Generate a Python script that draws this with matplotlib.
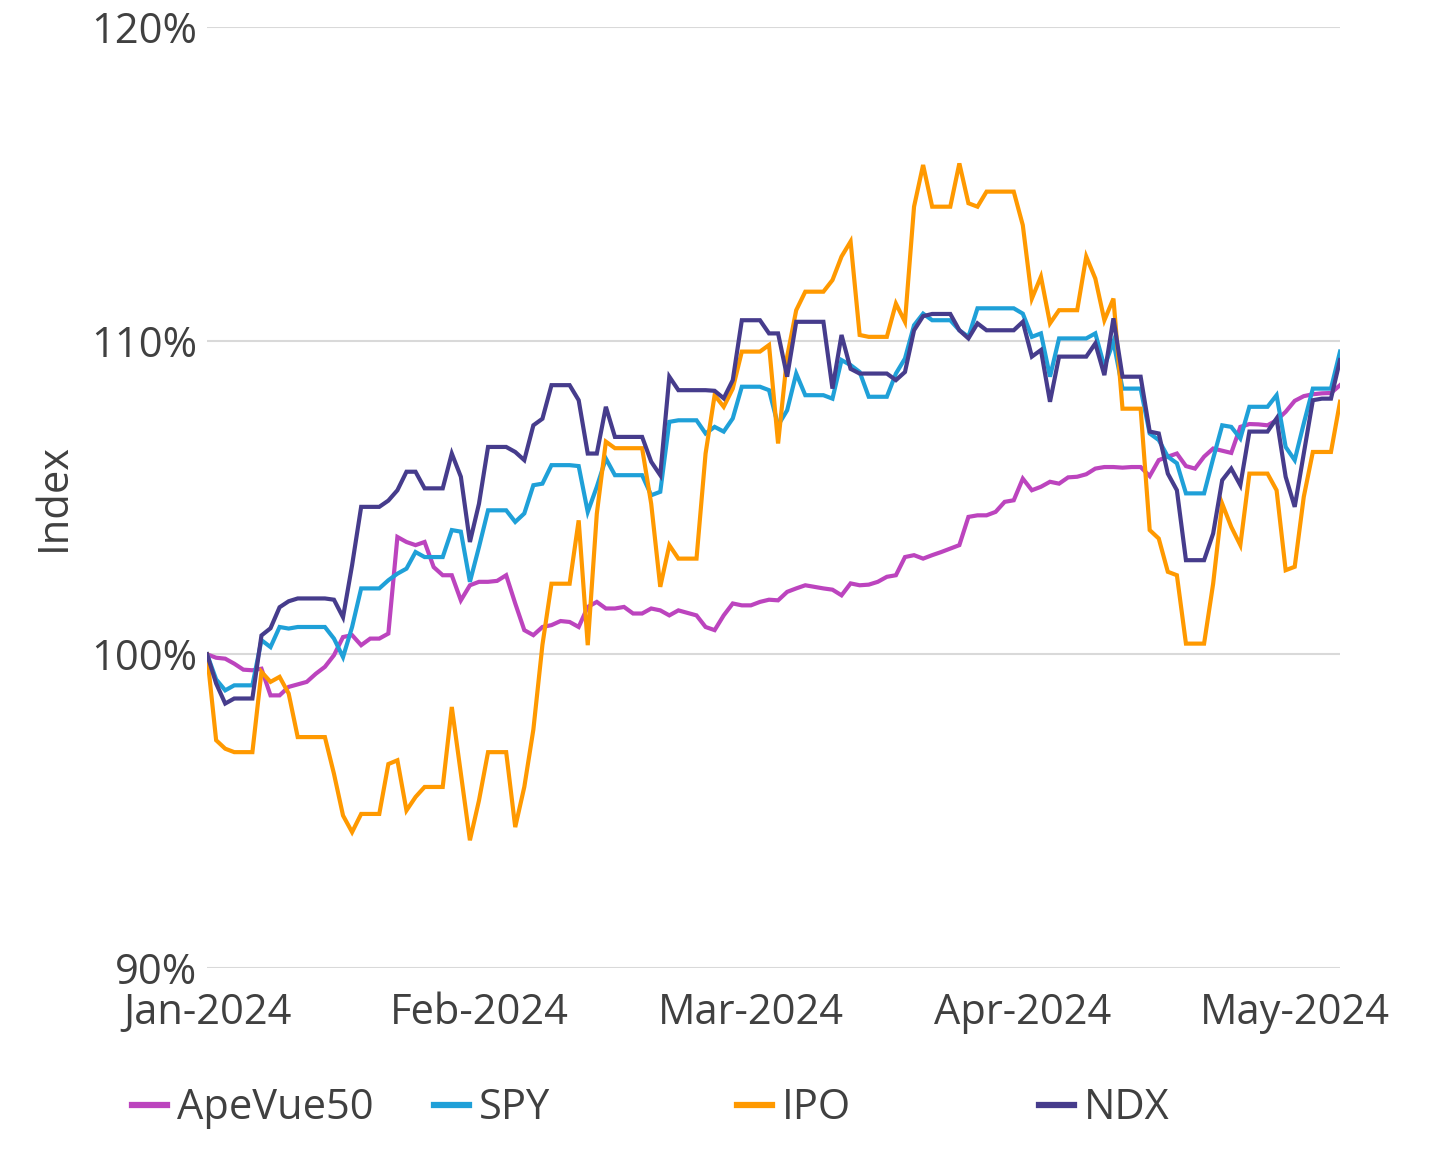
import numpy as np
import pandas as pd
import matplotlib
matplotlib.use('Agg')
import matplotlib.pyplot as plt
import matplotlib.dates as mdates

plt.rcParams['font.family'] = ['Open Sans', 'DejaVu Sans']

# daily values, Jan 2 2024 .. May 6 2024 (index, 100 = start)
start = '2024-01-02'
n_days = 126

apevue50 = [100, 99.89, 99.86, 99.7, 99.51, 99.49, 99.54, 98.69, 98.69, 98.96,
            99.04, 99.12, 99.38, 99.6, 99.97, 100.55, 100.61, 100.29, 100.5, 100.5,
            100.66, 103.74, 103.58, 103.48, 103.58, 102.78, 102.52, 102.52, 101.72, 102.2,
            102.31, 102.31, 102.34, 102.52, 101.62, 100.77, 100.61, 100.87, 100.93, 101.06,
            101.03, 100.87, 101.51, 101.67, 101.46, 101.46, 101.51, 101.3, 101.3, 101.46,
            101.4, 101.24, 101.4, 101.32, 101.24, 100.87, 100.77, 101.24, 101.62, 101.56,
            101.56, 101.67, 101.74, 101.72, 101.99, 102.1, 102.2, 102.15, 102.1, 102.06,
            101.88, 102.26, 102.2, 102.22, 102.31, 102.47, 102.52, 103.1, 103.16, 103.05,
            103.16, 103.26, 103.37, 103.48, 104.38, 104.43, 104.43, 104.54, 104.86, 104.91,
            105.6, 105.23, 105.34, 105.5, 105.44, 105.64, 105.66, 105.74, 105.92, 105.97,
            105.97, 105.95, 105.97, 105.97, 105.68, 106.19, 106.3, 106.4, 106.0, 105.92,
            106.3, 106.56, 106.49, 106.42, 107.25, 107.34, 107.33, 107.3, 107.46, 107.73,
            108.08, 108.23, 108.29, 108.32, 108.33, 108.58]

spy = [100, 99.2, 98.85, 99.01, 99.01, 99.01, 100.45, 100.23, 100.87, 100.82,
       100.87, 100.87, 100.87, 100.87, 100.5, 99.91, 100.87, 102.1, 102.1, 102.1,
       102.36, 102.57, 102.73, 103.26, 103.1, 103.1, 103.1, 103.96, 103.91, 102.31,
       103.42, 104.59, 104.59, 104.59, 104.22, 104.49, 105.39, 105.44, 106.03, 106.03,
       106.03, 106.0, 104.54, 105.34, 106.24, 105.71, 105.71, 105.71, 105.71, 105.07,
       105.18, 107.41, 107.46, 107.46, 107.46, 107.04, 107.25, 107.1, 107.52, 108.53,
       108.53, 108.53, 108.42, 107.3, 107.78, 108.95, 108.26, 108.26, 108.26, 108.15,
       109.38, 109.22, 109.0, 108.21, 108.21, 108.21, 108.95, 109.43, 110.49, 110.86,
       110.65, 110.65, 110.65, 110.33, 110.12, 111.03, 111.03, 111.03, 111.03, 111.03,
       110.86, 110.12, 110.23, 108.85, 110.07, 110.07, 110.07, 110.07, 110.23, 109.17,
       109.97, 108.47, 108.47, 108.47, 107.04, 106.83, 106.3, 106.09, 105.13, 105.13,
       105.13, 106.24, 107.3, 107.25, 106.88, 107.89, 107.89, 107.89, 108.26, 106.61,
       106.19, 107.36, 108.47, 108.47, 108.47, 109.65]

ipo = [100, 97.26, 96.99, 96.88, 96.88, 96.88, 99.44, 99.12, 99.28, 98.75,
       97.36, 97.36, 97.36, 97.36, 96.19, 94.86, 94.33, 94.91, 94.91, 94.91,
       96.5, 96.62, 95.02, 95.45, 95.77, 95.77, 95.77, 98.32, 96.2, 94.07,
       95.34, 96.88, 96.88, 96.88, 94.49, 95.77, 97.6, 100.3, 102.25, 102.25,
       102.25, 104.27, 100.29, 104.48, 106.78, 106.57, 106.57, 106.57, 106.57, 104.8,
       102.15, 103.48, 103.05, 103.05, 103.05, 106.4, 108.26, 107.89, 108.47, 109.65,
       109.65, 109.65, 109.86, 106.72, 109.49, 110.97, 111.56, 111.56, 111.56, 111.93,
       112.68, 113.16, 110.18, 110.12, 110.12, 110.12, 111.18, 110.6, 114.27, 115.6,
       114.27, 114.27, 114.27, 115.65, 114.38, 114.27, 114.75, 114.75, 114.75, 114.75,
       113.68, 111.34, 112.04, 110.55, 110.97, 110.97, 110.97, 112.68, 111.98, 110.65,
       111.34, 107.83, 107.83, 107.83, 103.96, 103.69, 102.63, 102.52, 100.34, 100.34,
       100.34, 102.25, 104.8, 104.06, 103.48, 105.76, 105.76, 105.76, 105.23, 102.68,
       102.79, 105.02, 106.45, 106.45, 106.45, 108.05]

ndx = [100, 99.07, 98.43, 98.59, 98.59, 98.59, 100.6, 100.83, 101.5, 101.69,
       101.78, 101.78, 101.78, 101.78, 101.74, 101.18, 102.84, 104.7, 104.7, 104.7,
       104.9, 105.23, 105.82, 105.82, 105.29, 105.29, 105.29, 106.4, 105.66, 103.58,
       104.8, 106.61, 106.61, 106.61, 106.45, 106.19, 107.3, 107.51, 108.58, 108.58,
       108.58, 108.1, 106.4, 106.4, 107.89, 106.93, 106.93, 106.93, 106.93, 106.14,
       105.71, 108.85, 108.42, 108.42, 108.42, 108.42, 108.4, 108.16, 108.74, 110.65,
       110.65, 110.65, 110.23, 110.23, 108.85, 110.6, 110.6, 110.6, 110.6, 108.47,
       110.18, 109.1, 108.95, 108.95, 108.95, 108.95, 108.74, 109.0, 110.33, 110.78,
       110.85, 110.85, 110.85, 110.33, 110.07, 110.55, 110.33, 110.33, 110.33, 110.33,
       110.6, 109.49, 109.7, 108.05, 109.49, 109.49, 109.49, 109.49, 109.91, 108.9,
       110.71, 108.85, 108.85, 108.85, 107.1, 107.04, 105.76, 105.23, 103.0, 103.0,
       103.0, 103.85, 105.55, 105.92, 105.39, 107.1, 107.1, 107.1, 107.52, 105.66,
       104.7, 106.4, 108.1, 108.15, 108.15, 109.38]

dates = pd.date_range(start, periods=n_days, freq='D')

series = [('ApeVue50', apevue50, '#BC44BE'),
          ('SPY', spy, '#1FA0D8'),
          ('IPO', ipo, '#FF9900'),
          ('NDX', ndx, '#463C8C')]

fig = plt.figure(figsize=(14.44, 11.57), dpi=100)
ax = fig.add_axes([0.1434, 0.1634, 0.928 - 0.1434, 0.9767 - 0.1634])

lines = []
for name, vals, col in series:
    ln, = ax.plot(dates, np.array(vals) / 100.0, color=col, lw=3, label=name,
                  solid_joinstyle='miter')
    lines.append(ln)

ax.set_ylim(0.9, 1.2)
ax.set_yticks([0.9, 1.0, 1.1, 1.2])
ax.set_yticklabels(['90%', '100%', '110%', '120%'])
ax.set_xlim(dates[0], dates[-1])
ax.set_xticks(dates[::30])
ax.xaxis.set_major_formatter(mdates.DateFormatter('%b-%Y'))

ax.grid(axis='y', color='#D9D9D9', lw=1.5)
ax.set_axisbelow(True)
for s in ax.spines.values():
    s.set_visible(False)
ax.tick_params(axis='both', length=0, labelsize=30, colors='#404040')
ax.tick_params(axis='x', pad=17)
ax.tick_params(axis='y', pad=7)
ax.set_ylabel('Index', fontsize=30, color='#404040', labelpad=12)

# legend entries spaced evenly below the plot
xs = [0.0796, 0.2888, 0.4986, 0.7078]
for ln, xpos in zip(lines, xs):
    leg = fig.legend(handles=[ln], loc='center left', bbox_to_anchor=(xpos, 0.042),
                     frameon=False, fontsize=30, handlelength=0.84,
                     handletextpad=0.25, borderaxespad=0)
    for t in leg.get_texts():
        t.set_color('#404040')
    for h in leg.legend_handles:
        h.set_linewidth(4.5)

fig.savefig('out.png', dpi=100)
